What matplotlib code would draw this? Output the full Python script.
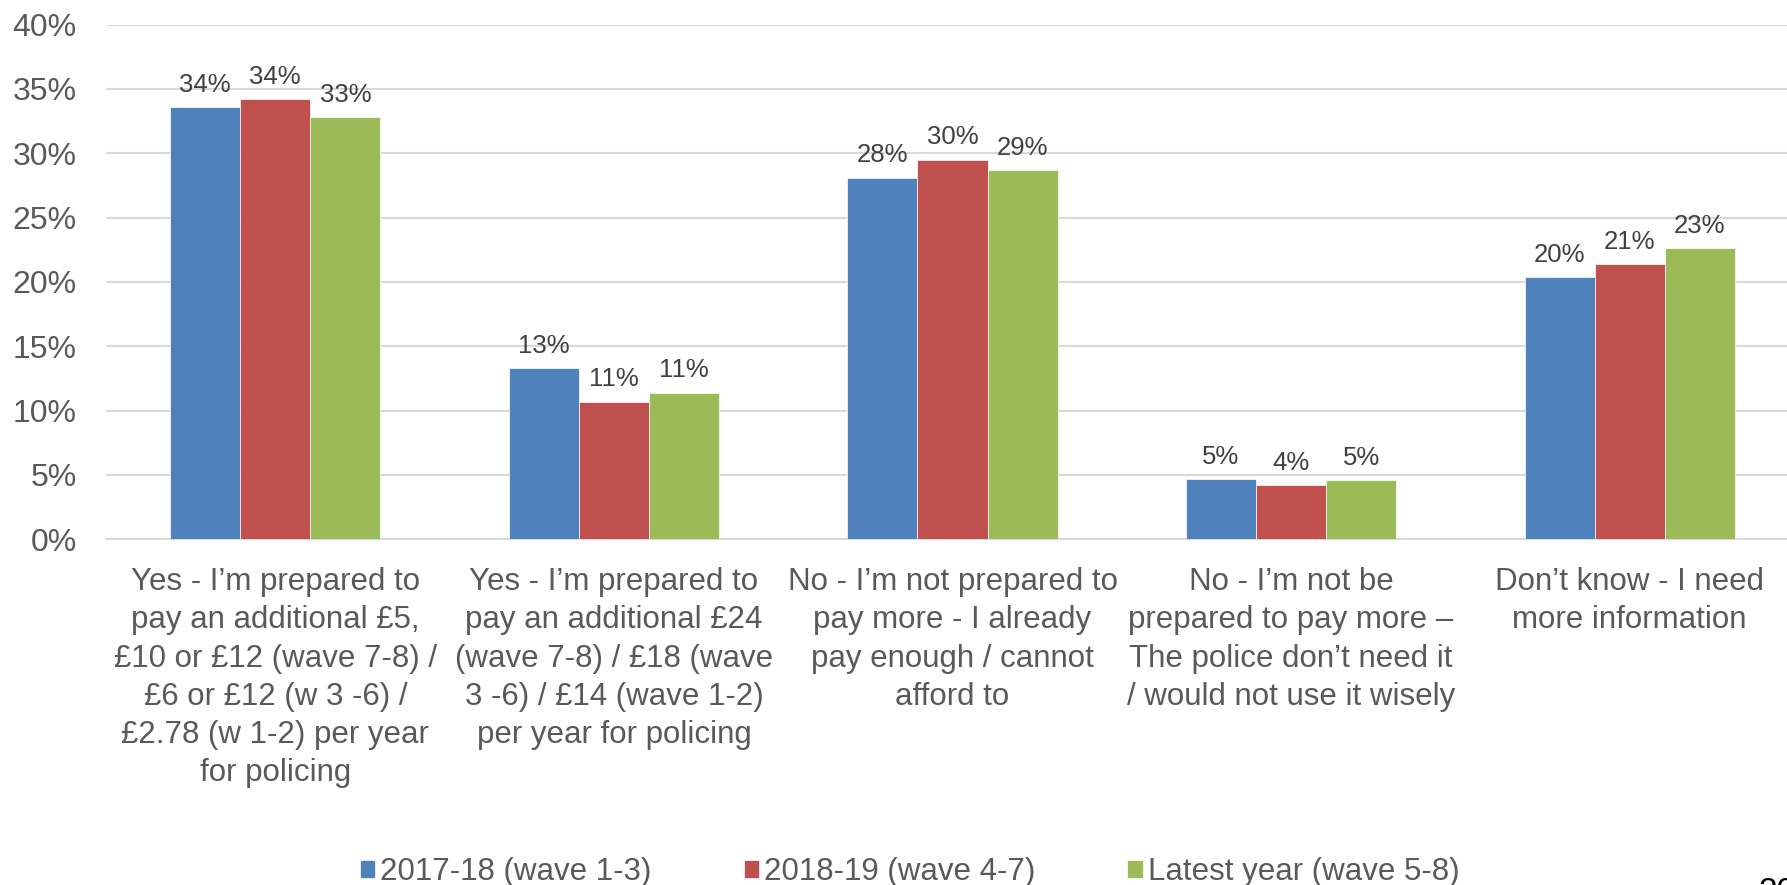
import numpy as np
import matplotlib.pyplot as plt

plt.rcParams['font.family'] = ['Liberation Sans', 'DejaVu Sans']

categories = [
    "Yes - I\u2019m prepared to\npay an additional \u00a35,\n\u00a310 or \u00a312 (wave 7-8) /\n\u00a36 or \u00a312 (w 3 -6) /\n\u00a32.78 (w 1-2) per year\nfor policing",
    "Yes - I\u2019m prepared to\npay an additional \u00a324\n(wave 7-8) / \u00a318 (wave\n3 -6) / \u00a314 (wave 1-2)\nper year for policing",
    "No - I\u2019m not prepared to\npay more - I already\npay enough / cannot\nafford to",
    "No - I\u2019m not be\nprepared to pay more \u2013\nThe police don\u2019t need it\n/ would not use it wisely",
    "Don\u2019t know - I need\nmore information",
]
series_names = ["2017-18 (wave 1-3)", "2018-19 (wave 4-7)", "Latest year (wave 5-8)"]
wave_1_3 = [33.6, 13.3, 28.1, 4.7, 20.4]
wave_4_7 = [34.2, 10.7, 29.5, 4.2, 21.4]
latest = [32.8, 11.4, 28.7, 4.6, 22.6]
colors = ['#4F81BD', '#C0504D', '#9BBB59']

fig = plt.figure(figsize=(17.87, 8.85), dpi=100)
ax = fig.add_axes([106/1787, 1-539.3/885, 1693/1787, (539.3-24.6)/885])

x = np.arange(len(categories))
w = 0.207
for i, (vals, name) in enumerate(zip([wave_1_3, wave_4_7, latest], series_names)):
    pos = x + (i-1)*w
    ax.bar(pos, vals, w, color=colors[i], label=name, edgecolor='white', linewidth=0.5, zorder=3)
    for p, v in zip(pos, vals):
        ax.text(p, v+0.8, '%d%%' % round(v), ha='center', va='bottom', fontsize=18.5, color='#404040')

ax.set_xlim(-0.5, len(categories)-0.5)
ax.set_ylim(0, 40)
ax.set_yticks(np.arange(0, 41, 5))
ax.set_yticklabels(['%d%%' % t for t in range(0, 41, 5)])
ax.set_xticks(x)
ax.set_xticklabels(categories, linespacing=1.36)
ax.tick_params(axis='both', length=0, labelsize=22.5, labelcolor='#595959')
ax.tick_params(axis='x', pad=20)
ax.tick_params(axis='y', pad=21, labelsize=23)
ax.grid(axis='y', color='#D9D9D9', linewidth=1.5, zorder=0)
for s in ['top', 'right', 'left']:
    ax.spines[s].set_visible(False)
ax.spines['bottom'].set_color('#D9D9D9')
ax.spines['bottom'].set_linewidth(1.5)

leg = fig.legend(loc='center', bbox_to_anchor=(0.509, 1-872/885), ncol=3, frameon=False,
                 fontsize=22.5, handlelength=0.5, handleheight=0.5, handletextpad=0.15,
                 columnspacing=2.95, labelcolor='#595959')

fig.text(0.984, 1-877/885, '20', fontsize=24, color='black', va='top', ha='left')

fig.savefig('out.png', dpi=100)
